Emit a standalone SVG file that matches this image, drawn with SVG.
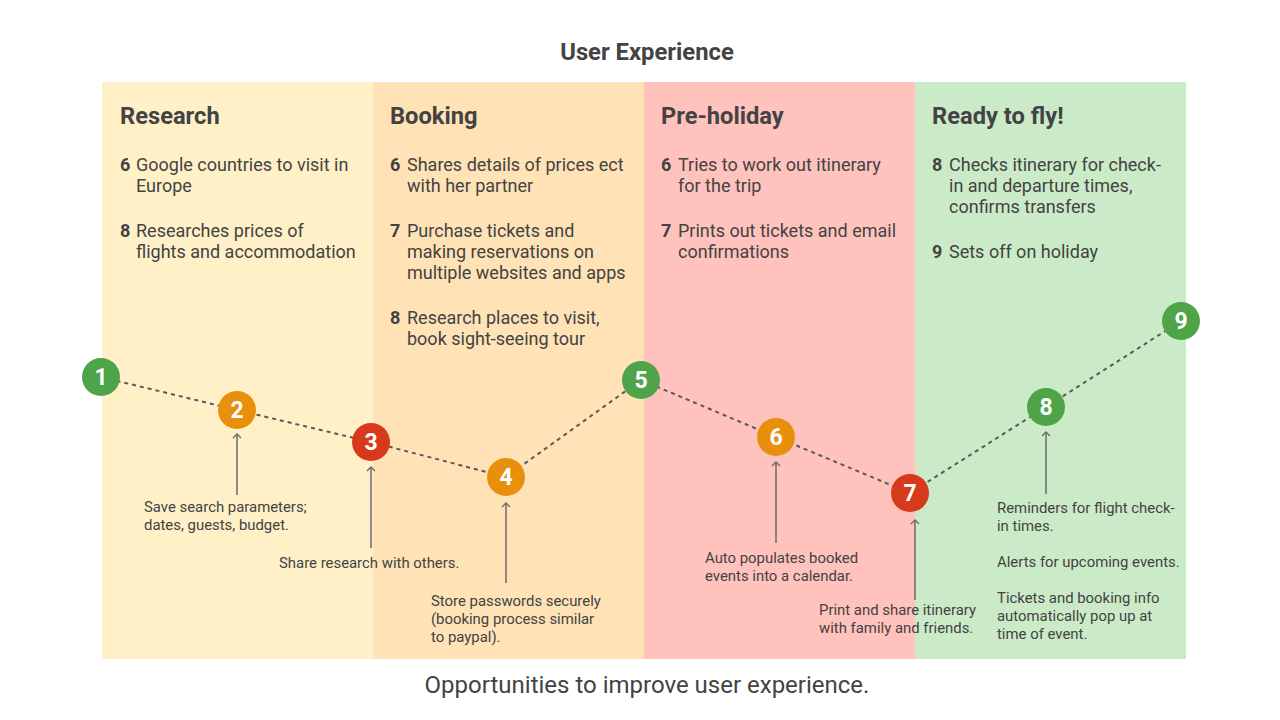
<svg xmlns="http://www.w3.org/2000/svg" width="1280" height="720" viewBox="0 0 1280 720">
<defs>
<style>
text{font-family:Roboto,"Liberation Sans",sans-serif;fill:#434343}
.title{font-size:23.8px;font-weight:700}
.cap{font-size:24px}
.hd{font-size:23.7px;font-weight:700}
.it{font-size:18px}
.n{font-weight:700}
.ann{font-size:14.9px}
.num{font-size:23px;font-weight:700;fill:#fff;text-anchor:middle}
.dash{fill:none;stroke:#595959;stroke-width:2;stroke-dasharray:4 4}
.arr{fill:none;stroke:#6a6a6a;stroke-width:1.5}
.g{fill:#4fa449}.o{fill:#e8900c}.r{fill:#d63a1a}
</style>
<marker id="ah" viewBox="0 0 10 10" refX="9" refY="5" markerWidth="10" markerHeight="10" markerUnits="userSpaceOnUse" orient="auto">
<path d="M5,1 L9,5 L5,9" fill="none" stroke="#6a6a6a" stroke-width="1.3"/>
</marker>
</defs>
<rect width="1280" height="720" fill="#fff"/>
<text class="title" x="647" y="60" text-anchor="middle">User Experience</text>

<g id="col-research">
<rect x="102" y="82" width="271" height="577" fill="#fff0c8"/>
<text class="hd" x="120" y="124">Research</text>
<text class="it" x="120" y="171"><tspan class="n">6</tspan><tspan x="136">Google countries to visit in</tspan><tspan x="136" y="192">Europe</tspan></text>
<text class="it" x="120" y="237"><tspan class="n">8</tspan><tspan x="136">Researches prices of</tspan><tspan x="136" y="258">flights and accommodation</tspan></text>
</g>
<g id="col-booking">
<rect x="373" y="82" width="271" height="577" fill="#ffe2b5"/>
<text class="hd" x="390" y="124">Booking</text>
<text class="it" x="390" y="171"><tspan class="n">6</tspan><tspan x="407">Shares details of prices ect</tspan><tspan x="407" y="192">with her partner</tspan></text>
<text class="it" x="390" y="237"><tspan class="n">7</tspan><tspan x="407">Purchase tickets and</tspan><tspan x="407" y="258">making reservations on</tspan><tspan x="407" y="279">multiple websites and apps</tspan></text>
<text class="it" x="390" y="324"><tspan class="n">8</tspan><tspan x="407">Research places to visit,</tspan><tspan x="407" y="345">book sight-seeing tour</tspan></text>
</g>
<g id="col-preholiday">
<rect x="644" y="82" width="271" height="577" fill="#ffc2bc"/>
<text class="hd" x="661" y="124">Pre-holiday</text>
<text class="it" x="661" y="171"><tspan class="n">6</tspan><tspan x="678">Tries to work out itinerary</tspan><tspan x="678" y="192">for the trip</tspan></text>
<text class="it" x="661" y="237"><tspan class="n">7</tspan><tspan x="678">Prints out tickets and email</tspan><tspan x="678" y="258">confirmations</tspan></text>
</g>
<g id="col-ready">
<rect x="915" y="82" width="271" height="577" fill="#cbebc8"/>
<text class="hd" x="932" y="124">Ready to fly!</text>
<text class="it" x="932" y="171"><tspan class="n">8</tspan><tspan x="949">Checks itinerary for check-</tspan><tspan x="949" y="192">in and departure times,</tspan><tspan x="949" y="213">confirms transfers</tspan></text>
<text class="it" x="932" y="258"><tspan class="n">9</tspan><tspan x="949">Sets off on holiday</tspan></text>
</g>

<g id="connectors">
<polyline class="dash" points="101,377 237,410 371,442 506,477 641,380 776,437 910,493 1046,407 1181,321"/>
<line class="arr" x1="237" y1="495" x2="237" y2="434" marker-end="url(#ah)"/>
<line class="arr" x1="371" y1="548" x2="371" y2="467" marker-end="url(#ah)"/>
<line class="arr" x1="506" y1="583" x2="506" y2="503" marker-end="url(#ah)"/>
<line class="arr" x1="776" y1="543" x2="776" y2="462" marker-end="url(#ah)"/>
<line class="arr" x1="915" y1="600" x2="915" y2="520" marker-end="url(#ah)"/>
<line class="arr" x1="1046" y1="494" x2="1046" y2="432" marker-end="url(#ah)"/>
</g>

<g id="node1"><circle class="g" cx="101" cy="377" r="19"/><text class="num" x="101" y="385">1</text></g>
<g id="node2"><circle class="o" cx="237" cy="410" r="19"/><text class="num" x="237" y="418">2</text></g>
<g id="node3"><circle class="r" cx="371" cy="442" r="19"/><text class="num" x="371" y="450">3</text></g>
<g id="node4"><circle class="o" cx="506" cy="477" r="19"/><text class="num" x="506" y="485">4</text></g>
<g id="node5"><circle class="g" cx="641" cy="380" r="19"/><text class="num" x="641" y="388">5</text></g>
<g id="node6"><circle class="o" cx="776" cy="437" r="19"/><text class="num" x="776" y="445">6</text></g>
<g id="node7"><circle class="r" cx="910" cy="493" r="19"/><text class="num" x="910" y="501">7</text></g>
<g id="node8"><circle class="g" cx="1046" cy="407" r="19"/><text class="num" x="1046" y="415">8</text></g>
<g id="node9"><circle class="g" cx="1181" cy="321" r="19"/><text class="num" x="1181" y="329">9</text></g>

<g id="annotations">
<text class="ann" x="144" y="512">Save search parameters;<tspan x="144" y="530">dates, guests, budget.</tspan></text>
<text class="ann" x="279" y="568">Share research with others.</text>
<text class="ann" x="431" y="606">Store passwords securely<tspan x="431" y="624">(booking process similar</tspan><tspan x="431" y="642">to paypal).</tspan></text>
<text class="ann" x="705" y="563">Auto populates booked<tspan x="705" y="581">events into a calendar.</tspan></text>
<text class="ann" x="819" y="615">Print and share itinerary<tspan x="819" y="633">with family and friends.</tspan></text>
<text class="ann" x="997" y="513">Reminders for flight check-<tspan x="997" y="531">in times.</tspan><tspan x="997" y="567">Alerts for upcoming events.</tspan><tspan x="997" y="603">Tickets and booking info</tspan><tspan x="997" y="621">automatically pop up at</tspan><tspan x="997" y="639">time of event.</tspan></text>
</g>

<text class="cap" x="647" y="693" text-anchor="middle">Opportunities to improve user experience.</text>
</svg>
